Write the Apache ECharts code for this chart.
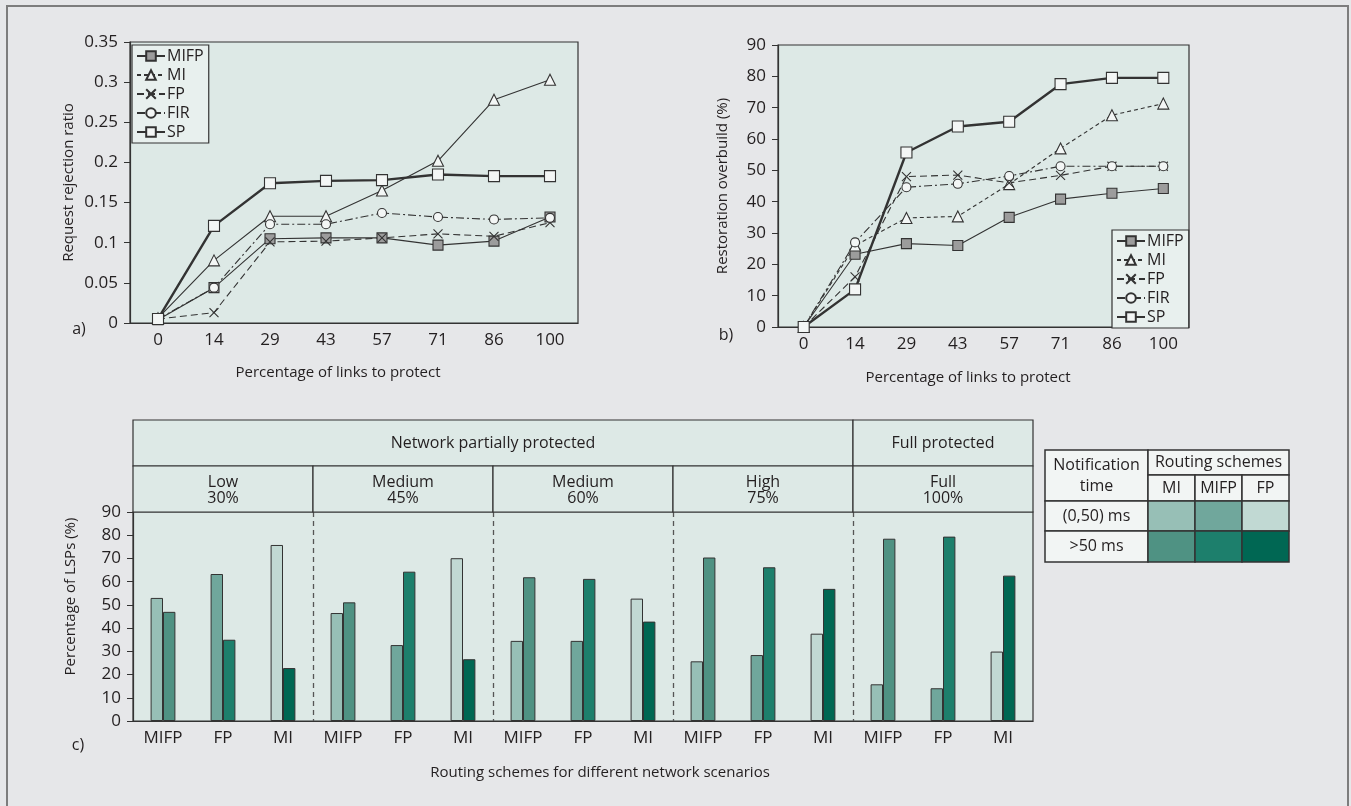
<!DOCTYPE html>
<html>
<head>
<meta charset="utf-8">
<script src="https://cdn.jsdelivr.net/npm/echarts@6/dist/echarts.min.js"></script>
<style>
  html, body { margin: 0; padding: 0; background: #e6e7e9; }
  #chart { width: 1351px; height: 806px; }
</style>
</head>
<body>
<div id="chart"></div>
<script>
// ---- a) and b): percentage of links to protect
var linkPct = ['0', '14', '29', '43', '57', '71', '86', '100'];
var schemeNames = ['MIFP', 'MI', 'FP', 'FIR', 'SP'];

// a) request rejection ratio
var rejMIFP = [0.004, 0.044, 0.105, 0.106, 0.106, 0.097, 0.102, 0.132];
var rejMI   = [0.006, 0.078, 0.133, 0.133, 0.165, 0.202, 0.278, 0.303];
var rejFP   = [0.005, 0.013, 0.101, 0.102, 0.106, 0.111, 0.108, 0.125];
var rejFIR  = [0.005, 0.044, 0.123, 0.123, 0.137, 0.132, 0.129, 0.131];
var rejSP   = [0.005, 0.121, 0.174, 0.177, 0.178, 0.185, 0.183, 0.183];

// b) restoration overbuild (%)
var ovMIFP = [0, 23.2, 26.6, 26.0, 35.0, 40.8, 42.7, 44.2];
var ovMI   = [0, 26.0, 34.8, 35.3, 45.6, 57.0, 67.6, 71.3];
var ovFP   = [0, 16.0, 48.0, 48.5, 46.0, 48.4, 51.3, 51.3];
var ovFIR  = [0, 27.0, 44.6, 45.7, 48.2, 51.3, 51.3, 51.3];
var ovSP   = [0, 12.0, 55.7, 64.0, 65.5, 77.5, 79.5, 79.5];

// ---- c): percentage of LSPs per routing scheme and scenario
var topHeaders = ['Network partially protected', 'Full protected'];
var topHeaderSpans = [4, 1];
var scenarios = ['Low\n30%', 'Medium\n45%', 'Medium\n60%', 'High\n75%', 'Full\n100%'];
var barSchemes = ['MIFP', 'FP', 'MI', 'MIFP', 'FP', 'MI', 'MIFP', 'FP', 'MI',
                  'MIFP', 'FP', 'MI', 'MIFP', 'FP', 'MI'];
var lspFast = [53, 63.3, 75.8, 46.5, 32.7, 70.1, 34.5, 34.5, 52.7, 25.7, 28.4, 37.6, 15.8, 14.1, 29.9];
var lspSlow = [47, 35.0, 22.8, 51.1, 64.3, 26.6, 61.9, 61.2, 42.8, 70.4, 66.2, 56.9, 78.5, 79.4, 62.6];

// legend table of c)
var notifyRows = ['(0,50) ms', '>50 ms'];
var legendCols = ['MI', 'MIFP', 'FP'];

var FONT = 'Open Sans';
var INK = '#231f20';
var PLOT_BG = '#dde9e6';
var EDGE = '#333333';

// fast / slow colour for each bar scheme (same order as legendCols)
var barColors = {
  MIFP: ['#97bfb6', '#4f9283'],
  FP:   ['#70a79c', '#1d7f6c'],
  MI:   ['#c1d9d3', '#006753']
};
var colColors = [barColors.MIFP, barColors.FP, barColors.MI];

var gridA = { left: 130, top: 42, width: 448, height: 281 };
var gridB = { left: 778, top: 45, width: 411, height: 282 };
var gridC = { left: 133, top: 512, width: 900, height: 209 };

var xMark = 'path://M0,0L10,10M10,0L0,10';
var marks = {
  MIFP: { symbol: 'rect', size: 10, fill: '#9c9c9c', width: 1.1, dash: 'solid' },
  MI:   { symbol: 'triangle', size: 11, fill: '#f3f6f5', width: 1.1, dash: [4, 3] },
  FP:   { symbol: xMark, size: 9, fill: 'rgba(0,0,0,0)', width: 1.1, dash: [7, 4] },
  FIR:  { symbol: 'circle', size: 9, fill: '#f3f6f5', width: 1.1, dash: [8, 3, 2, 3] },
  SP:   { symbol: 'rect', size: 11, fill: '#f3f6f5', width: 2.4, dash: 'solid' }
};

function lineSeries(name, data, idx, dash) {
  var m = marks[name];
  return {
    name: name,
    type: 'line',
    xAxisIndex: idx,
    yAxisIndex: idx,
    data: data,
    symbol: m.symbol,
    symbolSize: m.size,
    showAllSymbol: true,
    z: name === 'SP' ? 5 : 3,
    lineStyle: { color: EDGE, width: m.width, type: dash || m.dash },
    itemStyle: { color: m.fill, borderColor: EDGE, borderWidth: 1.1 },
    emphasis: { disabled: true }
  };
}

function catAxis(grid, data) {
  return {
    type: 'category',
    gridIndex: grid,
    data: data,
    boundaryGap: true,
    axisLine: { lineStyle: { color: EDGE, width: 1.2 } },
    axisTick: { length: 7, lineStyle: { color: EDGE } },
    axisLabel: { color: INK, fontSize: 17, fontFamily: FONT, margin: 9 },
    nameTextStyle: { color: INK, fontSize: 15, fontFamily: FONT },
    nameLocation: 'middle'
  };
}

function valAxis(grid, max, step, name, gap) {
  return {
    type: 'value',
    gridIndex: grid,
    min: 0,
    max: max,
    interval: step,
    name: name,
    nameLocation: 'middle',
    nameGap: gap,
    nameTextStyle: { color: INK, fontSize: 15, fontFamily: FONT },
    axisLine: { show: true, lineStyle: { color: EDGE, width: 1.2 } },
    axisTick: { show: true, length: 6, lineStyle: { color: EDGE } },
    axisLabel: { color: INK, fontSize: 17, fontFamily: FONT, margin: 12 },
    splitLine: { show: false }
  };
}

var xA = catAxis(0, linkPct);
xA.name = 'Percentage of links to protect';
xA.nameGap = 42;
xA.nameTextStyle.padding = [0, 32, 0, 0];
var xB = catAxis(1, linkPct);
xB.name = 'Percentage of links to protect';
xB.nameGap = 43;
xB.nameTextStyle.padding = [0, 31, 0, 0];
var xC = catAxis(2, barSchemes);
xC.name = 'Routing schemes for different network scenarios';
xC.nameGap = 44;
xC.nameTextStyle.padding = [0, 0, 0, 34];

var xGroups = {
  type: 'category',
  gridIndex: 2,
  data: scenarios,
  axisLine: { show: false },
  axisTick: { show: false },
  axisLabel: { show: false },
  splitLine: {
    show: true, showMinLine: false, showMaxLine: false,
    lineStyle: { color: '#555', width: 1.3, type: [5, 4] }
  }
};

var yC = valAxis(2, 90, 10, 'Percentage of LSPs (%)', 55);
yC.nameTextStyle.padding = [0, 0, 0, 40];

// bar data coloured by routing scheme
var fastData = lspFast.map(function (v, i) {
  return { value: v, itemStyle: { color: barColors[barSchemes[i]][0] } };
});
var slowData = lspSlow.map(function (v, i) {
  return { value: v, itemStyle: { color: barColors[barSchemes[i]][1] } };
});

// ---- decorations: frame, header table of c), legend table, panel labels
function text(str, x, y, size, lh) {
  return {
    type: 'text', silent: true, z: 20,
    style: {
      text: str, x: x, y: y, fill: INK,
      font: (size || 16) + 'px "' + FONT + '"',
      align: 'center', verticalAlign: 'middle', lineHeight: lh || 16
    }
  };
}
function box(x, y, w, h, fill, lw) {
  return {
    type: 'rect', silent: true, z: 10,
    shape: { x: x, y: y, width: w, height: h },
    style: { fill: fill, stroke: EDGE, lineWidth: lw || 1.2 }
  };
}

var graphics = [];
graphics.push({
  type: 'rect', silent: true, z: 1,
  shape: { x: 7, y: 6, width: 1341, height: 830 },
  style: { fill: 'none', stroke: '#7d7d7d', lineWidth: 2 }
});

// header of c)
var headH = 46;
var cellW = gridC.width / scenarios.length;
var hx = gridC.left;
topHeaders.forEach(function (t, i) {
  var w = cellW * topHeaderSpans[i];
  graphics.push(box(hx, gridC.top - 2 * headH, w, headH, PLOT_BG));
  graphics.push(text(t, hx + w / 2, gridC.top - 1.5 * headH, 16));
  hx += w;
});
scenarios.forEach(function (s, i) {
  var x = gridC.left + i * cellW;
  graphics.push(box(x, gridC.top - headH, cellW, headH, PLOT_BG));
  graphics.push(text(s, x + cellW / 2, gridC.top - headH / 2 + 1, 16, 16));
});

// legend table of c)
var lt = { x: 1045, y: 450, c0: 103, cw: 47, rh: [25, 26, 30, 31] };
var ltRowY = [lt.y];
lt.rh.forEach(function (h) { ltRowY.push(ltRowY[ltRowY.length - 1] + h); });
var LT_BG = '#f2f5f4';
graphics.push(box(lt.x, lt.y, lt.c0, lt.rh[0] + lt.rh[1], LT_BG, 1.5));
graphics.push(text('Notification\ntime', lt.x + lt.c0 / 2, lt.y + (lt.rh[0] + lt.rh[1]) / 2, 16, 21));
graphics.push(box(lt.x + lt.c0, lt.y, lt.cw * 3, lt.rh[0], LT_BG, 1.5));
graphics.push(text('Routing schemes', lt.x + lt.c0 + lt.cw * 1.5, lt.y + lt.rh[0] / 2, 16));
legendCols.forEach(function (c, j) {
  var x = lt.x + lt.c0 + j * lt.cw;
  graphics.push(box(x, ltRowY[1], lt.cw, lt.rh[1], LT_BG, 1.5));
  graphics.push(text(c, x + lt.cw / 2, ltRowY[1] + lt.rh[1] / 2, 16));
});
notifyRows.forEach(function (r, i) {
  var y = ltRowY[2 + i], h = lt.rh[2 + i];
  graphics.push(box(lt.x, y, lt.c0, h, LT_BG, 1.5));
  graphics.push(text(r, lt.x + lt.c0 / 2, y + h / 2, 16));
  legendCols.forEach(function (c, j) {
    graphics.push(box(lt.x + lt.c0 + j * lt.cw, y, lt.cw, h, colColors[j][i], 1.5));
  });
});

// panel labels
graphics.push(text('a)', 79, 329, 16));
graphics.push(text('b)', 726, 335, 16));
graphics.push(text('c)', 78, 745, 16));

var legendBase = {
  orient: 'vertical',
  data: schemeNames,
  itemWidth: 28,
  itemHeight: 12,
  itemGap: 3,
  padding: [3, 5, 3, 4],
  borderColor: EDGE,
  borderWidth: 1.2,
  backgroundColor: '#e8f0ee',
  selectedMode: false,
  textStyle: { color: INK, fontSize: 16, fontFamily: FONT, padding: [0, 0, 0, -3] }
};

var option = {
  backgroundColor: '#e6e7e9',
  animation: false,
  textStyle: { fontFamily: FONT },
  grid: [gridA, gridB, gridC].map(function (g) {
    return {
      left: g.left, top: g.top, width: g.width, height: g.height,
      show: true, backgroundColor: PLOT_BG, borderColor: EDGE, borderWidth: 1.2
    };
  }),
  legend: [
    Object.assign({}, legendBase, { left: 132, top: 45 }),
    Object.assign({}, legendBase, { left: 1112, top: 230 })
  ],
  xAxis: [xA, xB, xC, xGroups],
  yAxis: [
    valAxis(0, 0.35, 0.05, 'Request rejection ratio', 54),
    valAxis(1, 90, 10, 'Restoration overbuild (%)', 48),
    yC
  ],
  series: [
    // b) first so both legends show its dashed styles
    lineSeries('MIFP', ovMIFP, 1),
    lineSeries('MI', ovMI, 1),
    lineSeries('FP', ovFP, 1),
    lineSeries('FIR', ovFIR, 1),
    lineSeries('SP', ovSP, 1),
    lineSeries('MIFP', rejMIFP, 0),
    lineSeries('MI', rejMI, 0, 'solid'),
    lineSeries('FP', rejFP, 0),
    lineSeries('FIR', rejFIR, 0),
    lineSeries('SP', rejSP, 0),
    {
      name: '(0,50) ms', type: 'bar', xAxisIndex: 2, yAxisIndex: 2,
      data: fastData, barWidth: 12.4, barGap: '0%',
      itemStyle: { borderColor: EDGE, borderWidth: 1 }
    },
    {
      name: '>50 ms', type: 'bar', xAxisIndex: 2, yAxisIndex: 2,
      data: slowData, barWidth: 12.4, barGap: '0%',
      itemStyle: { borderColor: EDGE, borderWidth: 1 }
    }
  ],
  graphic: graphics
};

var chart = echarts.init(document.getElementById('chart'));
chart.setOption(option);
</script>
</body>
</html>
